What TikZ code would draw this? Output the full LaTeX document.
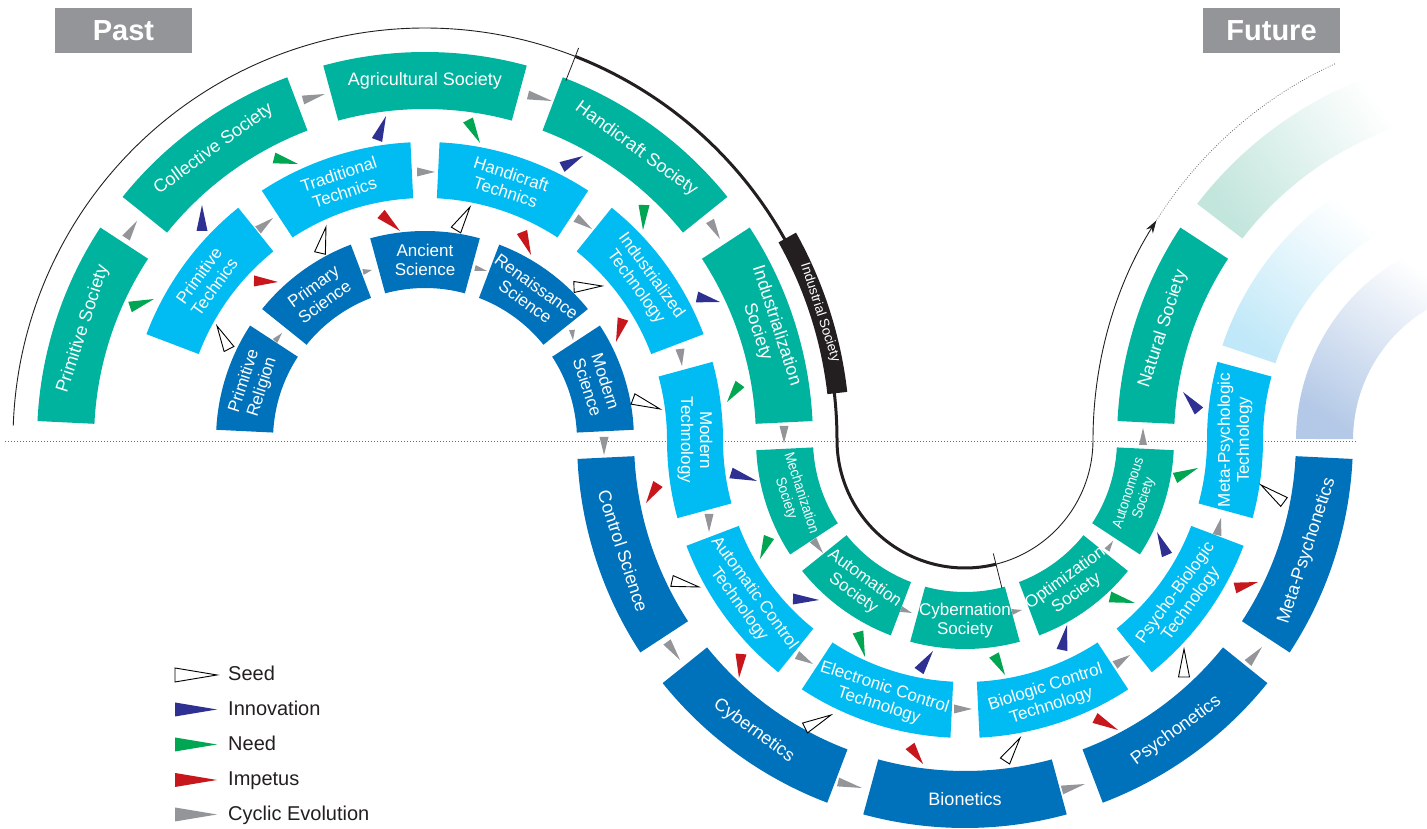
\documentclass[tikz,border=0pt]{standalone}
\usepackage{fontspec}
\setmainfont{Liberation Sans}
\newfontfamily\condfont[FakeStretch=0.9]{Liberation Sans}
\usetikzlibrary{calc,arrows.meta}
\definecolor{cSoc}{HTML}{00B39E}
\definecolor{cTec}{HTML}{00BCF2}
\definecolor{cSci}{HTML}{0072BC}
\definecolor{cInno}{HTML}{2E3192}
\definecolor{cNeed}{HTML}{00A651}
\definecolor{cImp}{HTML}{C8161D}
\definecolor{cCyc}{HTML}{939598}
\definecolor{cInk}{HTML}{231F20}
\definecolor{cFSoc}{HTML}{C2E5DC}
\definecolor{cFTec}{HTML}{C0E8F8}
\definecolor{cFSci}{HTML}{B4C9E7}
\newcommand{\annseg}[6]{%
  \path[#6] ($(#1)+(#4:#3pt)$) arc[start angle=#4, end angle=#5, radius=#3pt]
    -- ($(#1)+(#5:#2pt)$) arc[start angle=#5, end angle=#4, radius=#2pt] -- cycle;}
\newcommand{\tri}[4]{%
  \path[#1] ($(#2)!#4!90:(#3)$) -- (#3) -- ($(#2)!#4!-90:(#3)$) -- cycle;}
\tikzset{
  socseg/.style={fill=cSoc},
  tecseg/.style={fill=cTec},
  sciseg/.style={fill=cSci},
  lab/.style={text=white, align=center, inner sep=0pt, font=\fontsize{17}{19}\selectfont},
  labbig/.style={lab, font=\fontsize{18}{20}\selectfont},
  labsm/.style={lab, font=\fontsize{17}{19}\selectfont},
  labcond/.style={lab, font=\condfont\fontsize{14.5}{16}\selectfont},
  seedtri/.style={fill=white, draw=black, line width=0.9pt, line join=miter},
  innotri/.style={fill=cInno},
  needtri/.style={fill=cNeed},
  imptri/.style={fill=cImp},
  cyctri/.style={fill=cCyc},
  tagbox/.style={fill=cCyc, text=white, font=\bfseries\fontsize{29}{31}\selectfont, minimum width=137pt, minimum height=45pt, inner sep=0pt},
  legtext/.style={text=cInk, anchor=base west, inner sep=0pt, font=\fontsize{20}{22}\selectfont},
}
\begin{document}
\begin{tikzpicture}[x=1pt,y=1pt]
\useasboundingbox (0,0) rectangle (1427,829);
\coordinate (C1) at (425,389);
\coordinate (C2) at (965,389);
\coordinate (C3) at (1505,389);

% horizon line
\draw[cCyc!70!black, line width=0.8pt, dash pattern=on 0.8pt off 2.2pt] (5,388) -- (1357,388);

% faded future segments
\annseg{C3}{331}{388}{108}{142.5}{top color=white, bottom color=cFSoc, shading angle=-55}
\annseg{C3}{242}{298}{122}{161.5}{top color=white, bottom color=cFTec, shading angle=-38}
\annseg{C3}{152}{209}{112}{179.7}{top color=white, bottom color=cFSci, shading angle=-34}

% ---------- upper arc (past) ----------
\annseg{C1}{331}{388}{146.8}{177.2}{socseg}
\annseg{C1}{331}{388}{110.8}{141.2}{socseg}
\annseg{C1}{331}{388}{74.8}{105.2}{socseg}
\annseg{C1}{331}{388}{38.8}{69.2}{socseg}
\annseg{C1}{331}{388}{2.8}{33.2}{socseg}
\node[labbig, rotate=72] (psoc) at ($(C1)+(162:359.5pt)$) {Primitive Society};
\node[labbig, rotate=36] (csoc) at ($(C1)+(126:359.5pt)$) {Collective Society};
\node[labbig, rotate=0] (asoc) at ($(C1)+(90:359.5pt)$) {Agricultural Society};
\node[labbig, rotate=-36] (hsoc) at ($(C1)+(54:359.5pt)$) {Handicraft Society};
\node[labbig, rotate=-72] (isoc) at ($(C1)+(18:359.5pt)$) {Industrialization\\Society};

\annseg{C1}{242}{298}{128.8}{159.2}{tecseg}
\annseg{C1}{242}{298}{92.8}{123.2}{tecseg}
\annseg{C1}{242}{298}{56.8}{87.2}{tecseg}
\annseg{C1}{242}{298}{20.8}{51.2}{tecseg}
\node[lab, rotate=54] (ptec) at ($(C1)+(144:270pt)$) {Primitive\\Technics};
\node[lab, rotate=18] (ttec) at ($(C1)+(108:270pt)$) {Traditional\\Technics};
\node[lab, rotate=-18] (htec) at ($(C1)+(72:270pt)$) {Handicraft\\Technics};
\node[lab, rotate=-54] (itec) at ($(C1)+(36:270pt)$) {Industrialized\\Technology};

\annseg{C1}{152}{209}{146.8}{177.2}{sciseg}
\annseg{C1}{152}{209}{110.8}{141.2}{sciseg}
\annseg{C1}{152}{209}{74.8}{105.2}{sciseg}
\annseg{C1}{152}{209}{38.8}{69.2}{sciseg}
\annseg{C1}{152}{209}{2.8}{33.2}{sciseg}
\node[labsm, rotate=72] (psci) at ($(C1)+(162:180.5pt)$) {Primitive\\Religion};
\node[labsm, rotate=36] (prsci) at ($(C1)+(126:180.5pt)$) {Primary\\Science};
\node[labsm, rotate=0] (asci) at ($(C1)+(90:180.5pt)$) {Ancient\\Science};
\node[labsm, rotate=-36] (rsci) at ($(C1)+(54:180.5pt)$) {Renaissance\\Science};
\node[labsm, rotate=-72] (msci) at ($(C1)+(18:180.5pt)$) {Modern\\Science};

% Modern Technology (straddles both arcs)
\path[tecseg] ($(C1)+(15.2:298pt)$) arc[start angle=15.2, end angle=0, radius=298pt]
  arc[start angle=180, end angle=195.2, radius=242pt]
  -- ($(C2)+(195.2:298pt)$) arc[start angle=195.2, end angle=180, radius=298pt]
  arc[start angle=0, end angle=15.2, radius=242pt] -- cycle;
\node[lab, rotate=-90] (mtec) at (695,389) {Modern\\Technology};

% ---------- lower arc ----------
\annseg{C2}{152}{209}{182.8}{213.2}{socseg}
\annseg{C2}{152}{209}{218.8}{249.2}{socseg}
\annseg{C2}{152}{209}{254.8}{285.2}{socseg}
\annseg{C2}{152}{209}{290.8}{321.2}{socseg}
\annseg{C2}{152}{209}{326.8}{357.2}{socseg}
\node[labcond, rotate=-72] (mesoc) at ($(C2)+(198:180.5pt)$) {Mechanization\\Society};
\node[labsm, rotate=-36] (ausoc) at ($(C2)+(234:180.5pt)$) {Automation\\Society};
\node[labsm, rotate=0] (cysoc) at ($(C2)+(270:180.5pt)$) {Cybernation\\Society};
\node[labsm, rotate=36] (opsoc) at ($(C2)+(306:180.5pt)$) {Optimization\\Society};
\node[labcond, rotate=72] (atsoc) at ($(C2)+(342:180.5pt)$) {Autonomous\\Society};

\annseg{C2}{242}{298}{200.8}{231.2}{tecseg}
\annseg{C2}{242}{298}{236.8}{267.2}{tecseg}
\annseg{C2}{242}{298}{272.8}{303.2}{tecseg}
\annseg{C2}{242}{298}{308.8}{339.2}{tecseg}
\node[lab, rotate=-54] (actec) at ($(C2)+(216:270pt)$) {Automatic Control\\Technology};
\node[lab, rotate=-18] (ectec) at ($(C2)+(252:270pt)$) {Electronic Control\\Technology};
\node[lab, rotate=18] (bctec) at ($(C2)+(288:270pt)$) {Biologic Control\\Technology};
\node[lab, rotate=54] (pbtec) at ($(C2)+(324:270pt)$) {Psycho-Biologic\\Technology};

\annseg{C2}{331}{388}{182.8}{213.2}{sciseg}
\annseg{C2}{331}{388}{218.8}{249.2}{sciseg}
\annseg{C2}{331}{388}{254.8}{285.2}{sciseg}
\annseg{C2}{331}{388}{290.8}{321.2}{sciseg}
\annseg{C2}{331}{388}{326.8}{357.2}{sciseg}
\node[labbig, rotate=-72] (cosci) at ($(C2)+(198:359.5pt)$) {Control Science};
\node[labbig, rotate=-36] (cbsci) at ($(C2)+(234:359.5pt)$) {Cybernetics};
\node[labbig, rotate=0] (bisci) at ($(C2)+(270:359.5pt)$) {Bionetics};
\node[labbig, rotate=36] (pssci) at ($(C2)+(306:359.5pt)$) {Psychonetics};
\node[labbig, rotate=72] (mpsci) at ($(C2)+(342:359.5pt)$) {Meta-Psychonetics};

% Meta-Psychologic Technology (straddles)
\path[tecseg] ($(C2)+(344.8:242pt)$) arc[start angle=344.8, end angle=360, radius=242pt]
  arc[start angle=180, end angle=164.8, radius=298pt]
  -- ($(C3)+(164.8:242pt)$) arc[start angle=164.8, end angle=180, radius=242pt]
  arc[start angle=0, end angle=-15.2, radius=298pt] -- cycle;
\node[lab, rotate=90] (mptec) at (1235,389) {Meta-Psychologic\\Technology};

% third arc
\annseg{C3}{331}{388}{146.8}{177.2}{socseg}
\node[labbig, rotate=72] (nsoc) at ($(C3)+(162:359.5pt)$) {Natural Society};

% ---------- industrial society line ----------
\draw[cInk, line width=0.9pt] ($(C1)+(178:412pt)$) arc[start angle=178, end angle=68.6, radius=412pt];
\draw[cInk, line width=3pt] ($(C1)+(68.6:412pt)$) arc[start angle=68.6, end angle=0, radius=412pt]
  arc[start angle=180, end angle=284, radius=128pt];
\draw[cInk, line width=0.9pt, -{Stealth[length=13pt, width=8pt]}] ($(C2)+(284:128pt)$) arc[start angle=284, end angle=360, radius=128pt]
  arc[start angle=180, end angle=147.8, radius=412pt];
\draw[cCyc!70!black, line width=0.8pt, dash pattern=on 0.8pt off 1.6pt] ($(C3)+(147.8:412pt)$) arc[start angle=147.8, end angle=114.5, radius=417pt];
\draw[cInk, line width=0.8pt] ($(C1)+(68.6:386pt)$) -- ($(C1)+(68.6:421pt)$);
\draw[cInk, line width=0.8pt] ($(C2)+(284:117pt)$) -- ($(C2)+(284:153pt)$);
\annseg{C1}{405}{425}{6.5}{29.2}{fill=cInk}
\node[lab, font=\fontsize{13.5}{14.5}\selectfont, rotate=-72.15] (indsoc) at ($(C1)+(17.85:415pt)$) {Industrial Society};

% Past / Future
\node[tagbox] (past) at (123.5,798.5) {Past};
\node[tagbox] (future) at (1271.5,798.5) {Future};

% ---------- arrowheads (pixel coordinates, y downward) ----------
\begin{scope}[yshift=829pt, y=-1pt]
% cyclic evolution: society ring
\tri{cyctri}{126,238}{137,221}{4.5pt}
\tri{cyctri}{303,100}{325,94}{4.5pt}
\tri{cyctri}{528,95}{552,101}{4.5pt}
\tri{cyctri}{710,221}{720,239}{4.5pt}
\tri{cyctri}{784,426}{784,443}{4.5pt}
\tri{cyctri}{813,540}{823,553}{4pt}
\tri{cyctri}{901,609}{912,613}{3pt}
\tri{cyctri}{1012,612}{1022,610}{3pt}
\tri{cyctri}{1107,550}{1113,541}{3pt}
\tri{cyctri}{1143,445}{1143,428}{4pt}
% cyclic evolution: technics ring
\tri{cyctri}{258,230}{273,218}{4.5pt}
\tri{cyctri}{417,172}{435,172}{4.5pt}
\tri{cyctri}{576,218}{592,229}{4.5pt}
\tri{cyctri}{680,349}{682,366}{4.5pt}
\tri{cyctri}{709,514}{709,532}{4.5pt}
\tri{cyctri}{797,655}{813,664}{4.5pt}
\tri{cyctri}{954,709}{972,709}{4.5pt}
\tri{cyctri}{1115,665}{1130,655}{4.5pt}
\tri{cyctri}{1217,535}{1221,518}{4.5pt}
% cyclic evolution: science ring
\tri{cyctri}{275,341}{282,333}{3pt}
\tri{cyctri}{363,272}{372,270}{3pt}
\tri{cyctri}{475,268}{487,271}{3pt}
\tri{cyctri}{572,330}{573,340}{3pt}
\tri{cyctri}{604,437}{604,455}{4.5pt}
\tri{cyctri}{667,642}{680,660}{4.5pt}
\tri{cyctri}{838,782}{862,788}{4.5pt}
\tri{cyctri}{1062,790}{1085,784}{4.5pt}
\tri{cyctri}{1248,663}{1262,647}{4.5pt}
% seeds
\tri{seedtri}{229,349}{217,326}{5.5pt}
\tri{seedtri}{320,253}{326,227}{5.5pt}
\tri{seedtri}{456,230}{470,207}{5.5pt}
\tri{seedtri}{574,287}{602,286}{5.5pt}
\tri{seedtri}{633,399}{660,409}{5.5pt}
\tri{seedtri}{672,581}{699,587}{5.5pt}
\tri{seedtri}{805,728}{831,715}{5.5pt}
\tri{seedtri}{1005,761}{1020,738}{5.5pt}
\tri{seedtri}{1184,677}{1184,649}{5.5pt}
\tri{seedtri}{1284,502}{1261,485}{5.5pt}
% innovation
\tri{innotri}{202,231}{202,205}{5.5pt}
\tri{innotri}{377,140}{386,116}{5.5pt}
\tri{innotri}{562,167}{583,156}{5.5pt}
\tri{innotri}{697,297}{720,302}{5.5pt}
\tri{innotri}{731,473}{757,481}{5.5pt}
\tri{innotri}{793,599}{819,600}{5.5pt}
\tri{innotri}{919,671}{933,651}{5.5pt}
\tri{innotri}{1062,650}{1067,625}{5.5pt}
\tri{innotri}{1167,555}{1157,532}{5.5pt}
\tri{innotri}{1199,411}{1183,392}{5.5pt}
% need
\tri{needtri}{130,307}{154,299}{5.5pt}
\tri{needtri}{274,158}{298,164}{5.5pt}
\tri{needtri}{468,120}{480,143}{5.5pt}
\tri{needtri}{644,205}{643,230}{5.5pt}
\tri{needtri}{740,384}{727,402}{5.5pt}
\tri{needtri}{769,537}{760,559}{5.5pt}
\tri{needtri}{858,632}{865,657}{5.5pt}
\tri{needtri}{994,655}{1005,675}{5.5pt}
\tri{needtri}{1110,597}{1135,603}{5.5pt}
\tri{needtri}{1175,478}{1198,468}{5.5pt}
% impetus
\tri{imptri}{254,281}{278,282}{5.5pt}
\tri{imptri}{381,214}{400,231}{5.5pt}
\tri{imptri}{522,232}{531,255}{5.5pt}
\tri{imptri}{623,319}{616,342}{5.5pt}
\tri{imptri}{658,484}{646,503}{5.5pt}
\tri{imptri}{741,654}{739,678}{5.5pt}
\tri{imptri}{910,746}{923,764}{5.5pt}
\tri{imptri}{1095,718}{1118,730}{5.5pt}
\tri{imptri}{1235,588}{1258,582}{5.5pt}
% legend
\tri{seedtri}{175,675}{217,675}{7pt}
\tri{innotri}{175,709.5}{217,709.5}{7pt}
\tri{needtri}{175,744.5}{217,744.5}{7pt}
\tri{imptri}{175,780}{217,780}{7pt}
\tri{cyctri}{175,814.5}{217,814.5}{7pt}
\node[legtext] (lseed) at (228,681) {Seed};
\node[legtext] (linno) at (228,715.5) {Innovation};
\node[legtext] (lneed) at (228,750.5) {Need};
\node[legtext] (limp) at (228,786) {Impetus};
\node[legtext] (lcyc) at (228,820.5) {Cyclic Evolution};
\end{scope}
\end{tikzpicture}
\end{document}
